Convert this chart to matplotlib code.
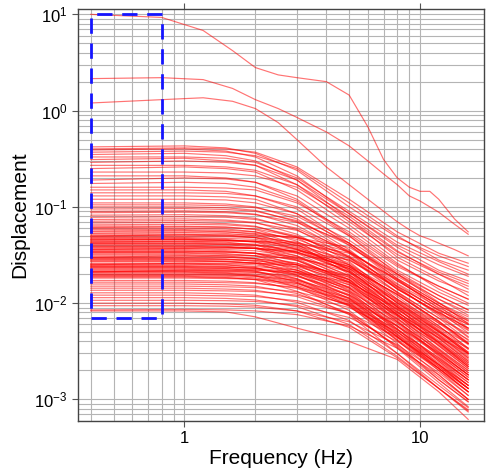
import matplotlib
matplotlib.use("Agg")
import matplotlib.pyplot as plt
from matplotlib.ticker import LogLocator, NullFormatter, FuncFormatter

plt.rcParams["font.family"] = ["Liberation Sans", "DejaVu Sans"]
plt.rcParams["mathtext.fontset"] = "custom"
plt.rcParams["mathtext.rm"] = "Liberation Sans"
plt.rcParams["mathtext.it"] = "Liberation Sans:italic"

# three strongest spectra, finer frequency sampling
freq_top = [0.4, 0.8, 1.2, 1.6, 2, 2.5, 3, 4, 5, 6, 7, 8, 9, 10, 11, 12, 14, 16]
disp_a = [10.0, 9.3, 6.8, 4.2, 2.8, 2.35, 2.2, 2.0, 1.45, 0.68, 0.31, 0.2,
          0.16, 0.145, 0.145, 0.12, 0.075, 0.055]
disp_b = [2.15, 2.2, 2.1, 1.7, 1.3, 1.05, 0.85, 0.6, 0.43, 0.3, 0.22, 0.17,
          0.13, 0.115, 0.1, 0.088, 0.066, 0.052]
disp_c = [1.2, 1.3, 1.36, 1.25, 1.05, 0.75, 0.5, 0.26, 0.17, 0.12, 0.09, 0.07,
          0.058, 0.05, 0.046, 0.042, 0.036, 0.031]

# remaining spectra, read at these frequencies
freq_band = [0.4, 1, 1.5, 2, 3, 5, 8, 12, 16]

band_upper = [
    [0.42, 0.43, 0.41, 0.36, 0.24, 0.10, 0.048, 0.031, 0.024],
    [0.40, 0.41, 0.40, 0.37, 0.26, 0.12, 0.055, 0.033, 0.026],
    [0.39, 0.40, 0.38, 0.33, 0.21, 0.085, 0.040, 0.025, 0.019],
    [0.37, 0.38, 0.37, 0.34, 0.25, 0.11, 0.050, 0.028, 0.022],
    [0.35, 0.36, 0.34, 0.30, 0.19, 0.075, 0.034, 0.021, 0.016],
    [0.33, 0.33, 0.32, 0.29, 0.20, 0.09, 0.043, 0.027, 0.020],
    [0.31, 0.32, 0.30, 0.27, 0.17, 0.07, 0.032, 0.020, 0.014],
    [0.29, 0.30, 0.29, 0.27, 0.19, 0.085, 0.038, 0.022, 0.017],
    [0.27, 0.27, 0.26, 0.24, 0.17, 0.080, 0.035, 0.020, 0.015],
    [0.25, 0.26, 0.25, 0.23, 0.15, 0.065, 0.028, 0.017, 0.013],
    [0.23, 0.23, 0.225, 0.21, 0.16, 0.075, 0.030, 0.018, 0.012],
    [0.21, 0.21, 0.20, 0.18, 0.12, 0.052, 0.024, 0.015, 0.011],
    [0.19, 0.20, 0.195, 0.18, 0.13, 0.060, 0.026, 0.014, 0.010],
    [0.175, 0.18, 0.175, 0.16, 0.115, 0.050, 0.020, 0.012, 0.0085],
    [0.16, 0.16, 0.157, 0.15, 0.11, 0.055, 0.025, 0.015, 0.011],
    [0.15, 0.15, 0.145, 0.13, 0.095, 0.042, 0.018, 0.010, 0.0072],
    [0.14, 0.14, 0.138, 0.13, 0.10, 0.050, 0.022, 0.013, 0.0095],
    [0.13, 0.13, 0.127, 0.12, 0.085, 0.040, 0.017, 0.0095, 0.0065],
    [0.12, 0.12, 0.118, 0.11, 0.085, 0.045, 0.021, 0.012, 0.0085],
    [0.11, 0.11, 0.107, 0.10, 0.075, 0.036, 0.015, 0.0085, 0.0060],
    [0.105, 0.105, 0.103, 0.098, 0.080, 0.042, 0.019, 0.011, 0.0080],
    [0.10, 0.10, 0.098, 0.092, 0.070, 0.034, 0.014, 0.0078, 0.0052],
]

band_mid = [
    [0.095, 0.096, 0.094, 0.090, 0.072, 0.040, 0.018, 0.010, 0.0068],
    [0.090, 0.091, 0.089, 0.084, 0.064, 0.033, 0.014, 0.0080, 0.0055],
    [0.087, 0.088, 0.087, 0.083, 0.069, 0.042, 0.020, 0.011, 0.0075],
    [0.082, 0.083, 0.081, 0.076, 0.058, 0.030, 0.013, 0.0070, 0.0048],
    [0.078, 0.079, 0.078, 0.074, 0.060, 0.035, 0.016, 0.0090, 0.0062],
    [0.074, 0.075, 0.073, 0.069, 0.052, 0.027, 0.011, 0.0062, 0.0042],
    [0.071, 0.072, 0.071, 0.068, 0.057, 0.034, 0.017, 0.0095, 0.0066],
    [0.068, 0.069, 0.067, 0.063, 0.048, 0.025, 0.010, 0.0056, 0.0038],
    [0.065, 0.066, 0.065, 0.062, 0.050, 0.030, 0.014, 0.0080, 0.0055],
    [0.063, 0.063, 0.062, 0.058, 0.044, 0.022, 0.0092, 0.0050, 0.0034],
    [0.061, 0.062, 0.061, 0.059, 0.049, 0.031, 0.015, 0.0085, 0.0060],
    [0.060, 0.060, 0.059, 0.055, 0.041, 0.020, 0.0080, 0.0044, 0.0030],
]

band_dense = [
    [0.058, 0.058, 0.057, 0.055, 0.046, 0.029, 0.0128, 0.0064, 0.0038],
    [0.056, 0.057, 0.055, 0.052, 0.039, 0.022, 0.0090, 0.0039, 0.0022],
    [0.055, 0.055, 0.055, 0.053, 0.048, 0.034, 0.0176, 0.0094, 0.0055],
    [0.053, 0.054, 0.053, 0.050, 0.042, 0.026, 0.0117, 0.0058, 0.0034],
    [0.052, 0.052, 0.051, 0.048, 0.036, 0.021, 0.0083, 0.0036, 0.0021],
    [0.050, 0.051, 0.050, 0.048, 0.040, 0.025, 0.011, 0.0055, 0.0033],
    [0.049, 0.049, 0.049, 0.048, 0.043, 0.030, 0.0157, 0.0083, 0.0049],
    [0.048, 0.048, 0.047, 0.046, 0.038, 0.024, 0.0106, 0.0053, 0.0031],
    [0.047, 0.047, 0.046, 0.043, 0.033, 0.019, 0.0075, 0.0033, 0.0019],
    [0.046, 0.046, 0.045, 0.044, 0.037, 0.023, 0.0101, 0.0051, 0.0030],
    [0.045, 0.046, 0.045, 0.044, 0.040, 0.028, 0.0144, 0.0077, 0.0045],
    [0.044, 0.044, 0.043, 0.040, 0.031, 0.0176, 0.0070, 0.0031, 0.0018],
    [0.043, 0.043, 0.042, 0.041, 0.034, 0.0215, 0.0095, 0.0047, 0.0028],
    [0.042, 0.042, 0.041, 0.040, 0.034, 0.021, 0.0092, 0.0046, 0.0027],
    [0.041, 0.041, 0.041, 0.040, 0.036, 0.025, 0.0131, 0.0070, 0.0041],
    [0.040, 0.040, 0.039, 0.037, 0.028, 0.016, 0.0064, 0.0028, 0.0016],
    [0.039, 0.039, 0.038, 0.037, 0.031, 0.0195, 0.0086, 0.0043, 0.0025],
    [0.038, 0.038, 0.038, 0.037, 0.033, 0.024, 0.0122, 0.0065, 0.0038],
    [0.037, 0.037, 0.036, 0.035, 0.030, 0.0185, 0.0081, 0.0041, 0.0024],
    [0.036, 0.036, 0.035, 0.033, 0.025, 0.0144, 0.0058, 0.0025, 0.0014],
    [0.035, 0.035, 0.034, 0.033, 0.028, 0.0175, 0.0077, 0.0039, 0.0023],
    [0.034, 0.034, 0.034, 0.033, 0.030, 0.021, 0.0109, 0.0058, 0.0034],
    [0.033, 0.033, 0.032, 0.031, 0.026, 0.0165, 0.0073, 0.0036, 0.0021],
    [0.032, 0.032, 0.031, 0.029, 0.022, 0.0128, 0.0051, 0.0022, 0.0013],
    [0.031, 0.031, 0.030, 0.029, 0.025, 0.0155, 0.0068, 0.0034, 0.0020],
    [0.030, 0.030, 0.030, 0.029, 0.026, 0.0186, 0.0096, 0.0051, 0.0030],
    [0.029, 0.029, 0.0285, 0.028, 0.023, 0.0145, 0.0064, 0.0032, 0.0019],
    [0.028, 0.028, 0.0273, 0.026, 0.0196, 0.0112, 0.0045, 0.0020, 0.0011],
    [0.0275, 0.0275, 0.027, 0.026, 0.022, 0.0138, 0.0061, 0.0030, 0.0018],
    [0.027, 0.027, 0.027, 0.026, 0.024, 0.0167, 0.0086, 0.0046, 0.0027],
    [0.026, 0.026, 0.0256, 0.025, 0.021, 0.013, 0.0057, 0.0029, 0.0017],
    [0.0255, 0.0255, 0.0249, 0.0235, 0.0179, 0.0102, 0.0041, 0.0018, 0.0010],
    [0.025, 0.025, 0.025, 0.024, 0.022, 0.0155, 0.0080, 0.0043, 0.0025],
    [0.0245, 0.0245, 0.024, 0.023, 0.0196, 0.0123, 0.0054, 0.0027, 0.0016],
    [0.024, 0.024, 0.0236, 0.023, 0.0192, 0.012, 0.0053, 0.0026, 0.0016],
    [0.0235, 0.0235, 0.0229, 0.0216, 0.0165, 0.0094, 0.0038, 0.0016, 0.00094],
    [0.023, 0.023, 0.0228, 0.0223, 0.0202, 0.0143, 0.0074, 0.0039, 0.0023],
    [0.0225, 0.0225, 0.0221, 0.0214, 0.018, 0.0113, 0.0050, 0.0025, 0.0015],
    [0.022, 0.022, 0.0216, 0.0209, 0.0176, 0.011, 0.0048, 0.0024, 0.0014],
    [0.0215, 0.0215, 0.0213, 0.0209, 0.0189, 0.0133, 0.0069, 0.0037, 0.0022],
    [0.021, 0.021, 0.0205, 0.0193, 0.0147, 0.0084, 0.0034, 0.0015, 0.00084],
    [0.0205, 0.0205, 0.0202, 0.0195, 0.0164, 0.0103, 0.0045, 0.0023, 0.0013],
    [0.020, 0.020, 0.0197, 0.019, 0.016, 0.010, 0.0044, 0.0022, 0.0013],
    [0.0197, 0.0197, 0.0195, 0.0191, 0.0173, 0.0122, 0.0063, 0.0033, 0.0020],
    [0.0193, 0.0193, 0.019, 0.0183, 0.0154, 0.0097, 0.0042, 0.0021, 0.0013],
    [0.019, 0.019, 0.0185, 0.0175, 0.0133, 0.0076, 0.0030, 0.0013, 0.00076],
    [0.0186, 0.0186, 0.0183, 0.0177, 0.0149, 0.0093, 0.0041, 0.0020, 0.0012],
    [0.0182, 0.0182, 0.018, 0.0177, 0.016, 0.0113, 0.0058, 0.0031, 0.0018],
    [0.050, 0.051, 0.051, 0.051, 0.048, 0.038, 0.020, 0.0102, 0.0061],
    [0.043, 0.044, 0.044, 0.044, 0.042, 0.033, 0.0176, 0.0088, 0.0053],
    [0.036, 0.037, 0.037, 0.037, 0.035, 0.028, 0.0148, 0.0074, 0.0044],
    [0.030, 0.031, 0.031, 0.031, 0.029, 0.023, 0.0124, 0.0062, 0.0037],
    [0.025, 0.026, 0.026, 0.026, 0.025, 0.0195, 0.0104, 0.0052, 0.0031],
    [0.021, 0.022, 0.022, 0.022, 0.021, 0.0165, 0.0088, 0.0044, 0.0026],
    [0.0335, 0.0335, 0.0327, 0.031, 0.0235, 0.0134, 0.0054, 0.0023, 0.0013],
    [0.0285, 0.0285, 0.0282, 0.0276, 0.025, 0.0177, 0.0091, 0.0048, 0.0029],
    [0.0238, 0.0238, 0.0236, 0.0231, 0.0209, 0.0148, 0.0076, 0.0040, 0.0024],
    [0.0212, 0.0212, 0.0208, 0.0201, 0.017, 0.0106, 0.0047, 0.0023, 0.0014],
    [0.0415, 0.0415, 0.0405, 0.0382, 0.029, 0.0166, 0.0066, 0.0029, 0.0017],
    [0.0455, 0.0455, 0.0448, 0.0432, 0.0364, 0.0228, 0.010, 0.0050, 0.0030],
    [0.0385, 0.0385, 0.0382, 0.0373, 0.0339, 0.0239, 0.0123, 0.0065, 0.0039],
    [0.0345, 0.0345, 0.034, 0.0328, 0.0276, 0.0173, 0.0076, 0.0038, 0.0022],
    [0.0295, 0.0295, 0.0288, 0.0271, 0.0207, 0.0118, 0.0047, 0.0021, 0.0012],
]

band_low = [
    [0.0172, 0.0172, 0.0169, 0.0163, 0.0142, 0.0095, 0.0045, 0.0021, 0.0012],
    [0.0165, 0.0165, 0.0163, 0.016, 0.0146, 0.0107, 0.0058, 0.0030, 0.0018],
    [0.0158, 0.0158, 0.0155, 0.015, 0.0126, 0.0079, 0.0035, 0.0016, 0.00095],
    [0.0150, 0.0150, 0.0148, 0.0145, 0.0131, 0.0097, 0.0053, 0.0027, 0.0016],
    [0.0143, 0.0143, 0.014, 0.0136, 0.0117, 0.0077, 0.0036, 0.0017, 0.0010],
    [0.0136, 0.0136, 0.0134, 0.0132, 0.0121, 0.0090, 0.0050, 0.0026, 0.0015],
    [0.0128, 0.0128, 0.0125, 0.0121, 0.0102, 0.0066, 0.0030, 0.0014, 0.00082],
    [0.0121, 0.0121, 0.0119, 0.0117, 0.0106, 0.0079, 0.0044, 0.0023, 0.0014],
    [0.0114, 0.0114, 0.0112, 0.0108, 0.0092, 0.0060, 0.0028, 0.0013, 0.00078],
    [0.0107, 0.0107, 0.0106, 0.0104, 0.0095, 0.0071, 0.0040, 0.0021, 0.0012],
    [0.0100, 0.0100, 0.0098, 0.0095, 0.0083, 0.0056, 0.0027, 0.0013, 0.00074],
    [0.0094, 0.0094, 0.0093, 0.0091, 0.0083, 0.0064, 0.0037, 0.0019, 0.0011],
    [0.0085, 0.0086, 0.0085, 0.0083, 0.0076, 0.0058, 0.0034, 0.0018, 0.0010],
    [0.0083, 0.0083, 0.0081, 0.0072, 0.0055, 0.0040, 0.0026, 0.0012, 0.00062],
]

# plateau window marked on the plot
box_freq = [0.4, 0.8]
box_disp = [0.007, 10.0]

fig = plt.figure(figsize=(4.92, 4.68), dpi=100)
ax = fig.add_axes([0.159, 0.101, 0.825, 0.880])

line_kw = dict(color="red", lw=0.85, alpha=0.55)
for group in (band_low, band_dense, band_mid, band_upper):
    for row in group:
        ax.plot(freq_band, row, **line_kw)
for row in (disp_c, disp_b, disp_a):
    ax.plot(freq_top, row, **line_kw)

x0, x1 = box_freq
y0, y1 = box_disp
ax.plot([x0, x1, x1, x0, x0], [y0, y0, y1, y1, y0], color="#1414ff", lw=2.0,
        dashes=(5.5, 3.5), zorder=5)

ax.set_xscale("log")
ax.set_yscale("log")
ax.set_xlim(0.354, 18.7)
ax.set_ylim(6.0e-4, 11.4)

ax.xaxis.set_major_formatter(FuncFormatter(lambda v, p: f"{v:g}"))
ax.xaxis.set_minor_locator(LogLocator(base=10, subs=range(2, 10)))
ax.yaxis.set_minor_locator(LogLocator(base=10, subs=range(2, 10)))
ax.xaxis.set_minor_formatter(NullFormatter())
ax.yaxis.set_minor_formatter(NullFormatter())
ax.grid(True, which="both", color="#b4b4b4", lw=0.8)
ax.set_axisbelow(True)

ax.tick_params(which="major", direction="out", length=4, width=0.8,
               color="#555555", labelsize=12, top=True, right=False)
ax.tick_params(which="minor", length=0)
for s in ax.spines.values():
    s.set_color("#444444")
    s.set_linewidth(1.0)

ax.set_xlabel("Frequency (Hz)", fontsize=15, labelpad=2)
ax.set_ylabel("Displacement", fontsize=15, labelpad=4)

fig.savefig("out.png", dpi=100)
